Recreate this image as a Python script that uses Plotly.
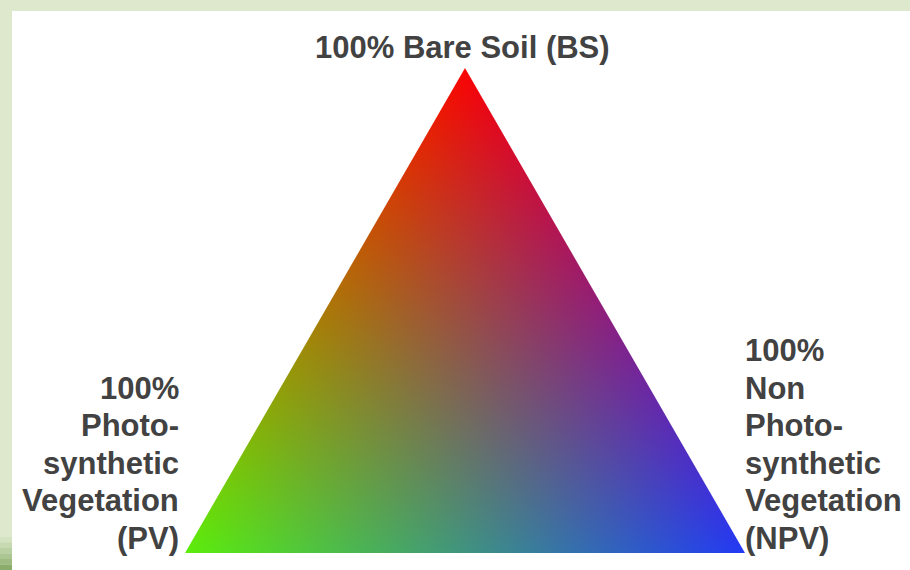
import base64
import struct
import zlib

import numpy as np
import plotly.graph_objects as go

# ---------------- data ----------------
# ternary end-members (corner compositions: BS, PV, NPV fractions)
corner_names = ["BS", "PV", "NPV"]
corner_bs = [1.0, 0.0, 0.0]
corner_pv = [0.0, 1.0, 0.0]
corner_npv = [0.0, 0.0, 1.0]
corner_red = [250, 92, 35]
corner_green = [4, 238, 58]
corner_blue = [4, 12, 245]

top_label_lines = ["100% Bare Soil (BS)"]
left_label_lines = ["100%", "Photo-", "synthetic", "Vegetation", "(PV)"]
right_label_lines = ["100%", "Non", "Photo-", "synthetic", "Vegetation", "(NPV)"]

# ---------------- geometry ----------------
W, H = 910, 570
SCALE = 560.0  # px per data unit
X_LEFT_PX, Y_BASE_PX = 185.0, 553.0


def tern_to_xy(bs, pv, npv):
    s = bs + pv + npv
    x = (npv + 0.5 * bs) / s
    y = (np.sqrt(3) / 2) * bs / s
    return x, y


cx, cy = tern_to_xy(np.array(corner_bs), np.array(corner_pv), np.array(corner_npv))
cols = np.array([corner_red, corner_green, corner_blue], dtype=float).T  # rows = vertices

# raster of the triangle (1 px per screen px)
xmin, xmax = cx.min(), cx.max()
ymin, ymax = cy.min(), cy.max()
nx = int(round((xmax - xmin) * SCALE)) + 2
ny = int(round((ymax - ymin) * SCALE)) + 2
dx = 1.0 / SCALE
xs = xmin + (np.arange(nx) - 0.5) * dx
ys = ymin + (np.arange(ny) - 0.5) * dx
X, Y = np.meshgrid(xs, ys)

(x1, x2, x3), (y1, y2, y3) = cx, cy
den = (y2 - y3) * (x1 - x3) + (x3 - x2) * (y1 - y3)
w1 = ((y2 - y3) * (X - x3) + (x3 - x2) * (Y - y3)) / den
w2 = ((y3 - y1) * (X - x3) + (x1 - x3) * (Y - y3)) / den
w3 = 1 - w1 - w2
wts = np.stack([w1, w2, w3], axis=-1)
# edge distances in px for anti-aliasing
h = np.sqrt(3) / 2
dist = np.min(wts, axis=-1) * h * SCALE
alpha = np.clip(dist + 0.5, 0, 1)
wc = np.clip(wts, 0, 1)
wc = wc / wc.sum(axis=-1, keepdims=True)
rgb = wc @ cols
rgba = np.zeros((ny, nx, 4), dtype=np.uint8)
rgba[..., :3] = np.clip(rgb, 0, 255).astype(np.uint8)
rgba[..., 3] = (alpha * 255).astype(np.uint8)


def png_uri(arr):
    hh, ww, _ = arr.shape
    raw = b"".join(b"\x00" + arr[i].tobytes() for i in range(hh))

    def chunk(tag, data):
        c = struct.pack(">I", len(data)) + tag + data
        return c + struct.pack(">I", zlib.crc32(tag + data) & 0xFFFFFFFF)

    png = b"\x89PNG\r\n\x1a\n"
    png += chunk(b"IHDR", struct.pack(">IIBBBBB", ww, hh, 8, 6, 0, 0, 0))
    png += chunk(b"IDAT", zlib.compress(raw, 9))
    png += chunk(b"IEND", b"")
    return "data:image/png;base64," + base64.b64encode(png).decode()


fig = go.Figure()
fig.add_trace(
    go.Image(
        source=png_uri(rgba),
        x0=xs[0],
        dx=dx,
        y0=ys[0],
        dy=dx,
        hoverinfo="skip",
    )
)

# axis ranges so that data maps to pixel positions
x_lo = -X_LEFT_PX / SCALE
x_hi = (W - X_LEFT_PX) / SCALE
y_lo = -(H - Y_BASE_PX) / SCALE
y_hi = Y_BASE_PX / SCALE

FONT = dict(family="Liberation Sans, Arial, sans-serif", size=31, color="#424242")


def px_ann(text, px, py, xanchor):
    return dict(
        text="<b>%s</b>" % text,
        x=px / W,
        y=1 - py / H,
        xref="paper",
        yref="paper",
        xanchor=xanchor,
        yanchor="middle",
        showarrow=False,
        font=FONT,
    )


LINE = 37.6
anns = []
for i, t in enumerate(top_label_lines):
    anns.append(px_ann(t, 462, 47 + i * LINE, "center"))
for i, t in enumerate(left_label_lines):
    anns.append(px_ann(t, 181, 388 + i * LINE, "right"))
for i, t in enumerate(right_label_lines):
    anns.append(px_ann(t, 743, 350.5 + i * LINE, "left"))

# slide frame: light green band top & left, white page
shapes = [
    dict(type="rect", xref="paper", yref="paper", x0=12 / W, x1=1, y0=0, y1=1 - 11 / H,
         fillcolor="white", line=dict(width=0), layer="below"),
]
stripe_cols = ["#d3e2c0", "#c6d9b1", "#b9d0a2", "#abc693", "#9dbb82", "#8aad6c"]
for i, c in enumerate(stripe_cols):
    y0p = 537 + i * 5.5
    shapes.append(dict(type="rect", xref="paper", yref="paper", x0=0, x1=12 / W,
                       y0=1 - (y0p + 5.5) / H, y1=1 - y0p / H,
                       fillcolor=c, line=dict(width=0), layer="below"))

fig.update_layout(
    width=W,
    height=H,
    margin=dict(l=0, r=0, t=0, b=0),
    paper_bgcolor="#dde8cc",
    plot_bgcolor="rgba(0,0,0,0)",
    xaxis=dict(range=[x_lo, x_hi], visible=False, fixedrange=True),
    yaxis=dict(range=[y_lo, y_hi], visible=False, fixedrange=True, autorange=False),
    annotations=anns,
    shapes=shapes,
    showlegend=False,
)

fig.write_html(
    "out.html",
    config={"displayModeBar": False},
    post_script="document.body.style.margin='0';document.body.style.overflow='hidden';",
)
